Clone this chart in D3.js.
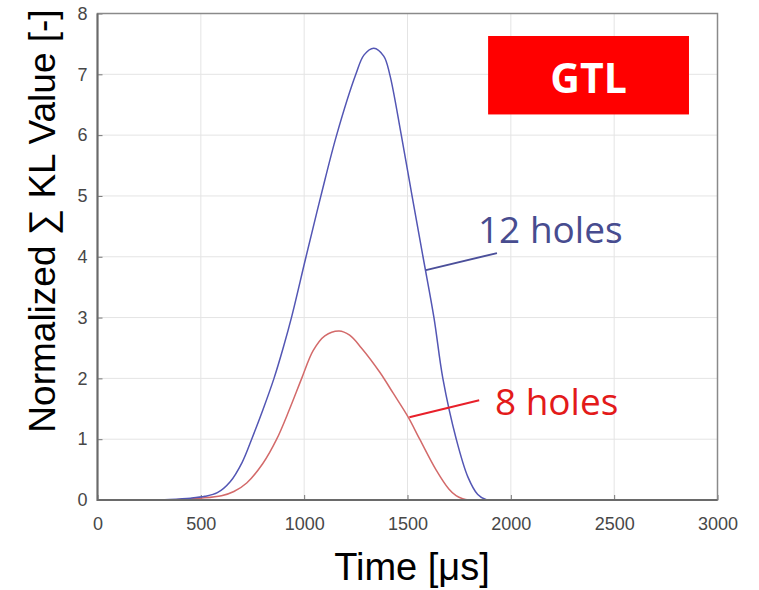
<!DOCTYPE html>
<html>
<head>
<meta charset="utf-8">
<title>Normalized KL Value</title>
<style>
  body { margin: 0; background: #fff; }
  svg { display: block; font-family: "Liberation Sans", Arial, sans-serif; }
  .tick text { fill: #474747; font-size: 18px; }
  .grid line { stroke: #e4e4e4; stroke-width: 1; }
  .label { font-family: "Open Sans", sans-serif; font-size: 37px; }
</style>
</head>
<body>
<div id="chart"></div>
<script src="https://d3js.org/d3.v7.min.js"></script>
<script>
// ticks
const timeTicks = [0, 500, 1000, 1500, 2000, 2500, 3000];
const valueTicks = [0, 1, 2, 3, 4, 5, 6, 7, 8];

// 12 holes (blue)
const holes12Time  = [0, 250, 350, 450, 520, 580, 642, 700, 746, 800, 854, 900, 940, 1009, 1081, 1157, 1250, 1290, 1337, 1385, 1414, 1470, 1522, 1575, 1628, 1671, 1736, 1792, 1840, 1885, 1930, 2000, 2500, 3000];
const holes12Value = [0, 0, 0.01, 0.03, 0.06, 0.12, 0.3, 0.62, 1.0, 1.48, 2.0, 2.52, 3.02, 4.0, 5.0, 6.0, 7.0, 7.32, 7.43, 7.3, 7.0, 6.0, 5.0, 4.0, 3.0, 2.0, 1.0, 0.38, 0.09, 0, 0, 0, 0, 0];

// 8 holes (red)
const holes8Time  = [0, 300, 400, 500, 600, 660, 722, 800, 867, 930, 988, 1044, 1100, 1169, 1220, 1277, 1366, 1430, 1502, 1559, 1639, 1700, 1735, 1767, 1795, 1840, 1900, 2500, 3000];
const holes8Value = [0, 0, 0.01, 0.03, 0.07, 0.14, 0.28, 0.6, 1.0, 1.5, 2.0, 2.46, 2.7, 2.78, 2.71, 2.5, 2.1, 1.76, 1.37, 1.0, 0.49, 0.18, 0.07, 0.02, 0, 0, 0, 0, 0];

const width = 759, height = 590;

const svg = d3.select("#chart").append("svg")
    .attr("width", width)
    .attr("height", height);

svg.append("rect").attr("width", width).attr("height", height).attr("fill", "#fff");

const x = d3.scaleLinear().domain([0, 3000]).range([97.5, 717.5]);
const y = d3.scaleLinear().domain([0, 8]).range([500, 13.5]);

// grid
svg.append("g").attr("class", "grid")
    .selectAll("line").data(timeTicks.slice(1, -1)).join("line")
    .attr("x1", d => x(d)).attr("x2", d => x(d))
    .attr("y1", y(0)).attr("y2", y(8));
svg.append("g").attr("class", "grid")
    .selectAll("line").data(valueTicks.slice(1, -1)).join("line")
    .attr("x1", x(0)).attr("x2", x(3000))
    .attr("y1", d => y(d)).attr("y2", d => y(d));

// axes (matlab style, inward ticks)
const xAxis = svg.append("g")
    .attr("transform", `translate(0,${y(0)})`)
    .call(d3.axisBottom(x).tickValues(timeTicks).tickFormat(d3.format("d")).tickSize(-5).tickPadding(14));
const yAxis = svg.append("g")
    .attr("transform", `translate(${x(0)},0)`)
    .call(d3.axisLeft(y).tickValues(valueTicks).tickFormat(d3.format("d")).tickSize(-5).tickPadding(10));
[xAxis, yAxis].forEach(a => {
    a.select(".domain").remove();
    a.selectAll(".tick line").attr("stroke", "#777");
    a.attr("font-family", null).attr("font-size", null);
});
xAxis.selectAll(".tick text").attr("dy", "0.9em");

// curves (clipped to the plot box)
svg.append("clipPath").attr("id", "plot")
    .append("rect")
    .attr("x", x(0)).attr("y", y(8))
    .attr("width", x(3000) - x(0)).attr("height", y(0) - y(8));
const line = d3.line().x(d => x(d[0])).y(d => y(d[1])).curve(d3.curveCatmullRom.alpha(0.5));
const curves = svg.append("g").attr("clip-path", "url(#plot)");
curves.append("path")
    .datum(d3.zip(holes8Time, holes8Value))
    .attr("d", line)
    .attr("fill", "none").attr("stroke", "#d36a6a").attr("stroke-width", 1.5);
curves.append("path")
    .datum(d3.zip(holes12Time, holes12Value))
    .attr("d", line)
    .attr("fill", "none").attr("stroke", "#5356b4").attr("stroke-width", 1.5);

// box
svg.append("rect")
    .attr("x", x(0)).attr("y", y(8))
    .attr("width", x(3000) - x(0)).attr("height", y(0) - y(8))
    .attr("fill", "none").attr("stroke", "#8a8a8a").attr("stroke-width", 1.5);
svg.append("path")
    .attr("d", `M${x(0)},${y(8)}V${y(0)}H${x(3000)}`)
    .attr("fill", "none").attr("stroke", "#6a6a6a").attr("stroke-width", 2);

// annotations
svg.append("line")
    .attr("x1", x(1589)).attr("y1", y(3.78)).attr("x2", x(1933)).attr("y2", y(4.06))
    .attr("stroke", "#4b4f9a").attr("stroke-width", 2);
svg.append("text").attr("class", "label")
    .attr("x", x(1841)).attr("y", y(4.23))
    .attr("fill", "#474c8f").text("12 holes");

svg.append("line")
    .attr("x1", x(1509)).attr("y1", y(1.36)).attr("x2", x(1847)).attr("y2", y(1.64))
    .attr("stroke", "#e8202a").attr("stroke-width", 2);
svg.append("text").attr("class", "label")
    .attr("x", x(1923)).attr("y", y(1.4))
    .attr("fill", "#e31a1a").text("8 holes");

// GTL box
svg.append("rect")
    .attr("x", x(1890)).attr("y", y(7.63))
    .attr("width", x(2862) - x(1890)).attr("height", y(6.34) - y(7.63))
    .attr("fill", "#ff0000");
svg.append("text")
    .attr("x", (x(1890) + x(2862)) / 2).attr("y", y(6.35) - 21)
    .attr("text-anchor", "middle")
    .attr("font-family", "'Open Sans', sans-serif").attr("font-weight", "bold")
    .attr("font-size", 41).attr("fill", "#fff").text("GTL");

// axis titles
svg.append("text")
    .attr("x", 412).attr("y", 580)
    .attr("text-anchor", "middle")
    .attr("font-size", 38).attr("fill", "#000")
    .text("Time [μs]");
svg.append("text")
    .attr("transform", "translate(55,221) rotate(-90)")
    .attr("text-anchor", "middle")
    .attr("font-size", 37).attr("fill", "#000")
    .text("Normalized ∑ KL Value [-]");
</script>
</body>
</html>
